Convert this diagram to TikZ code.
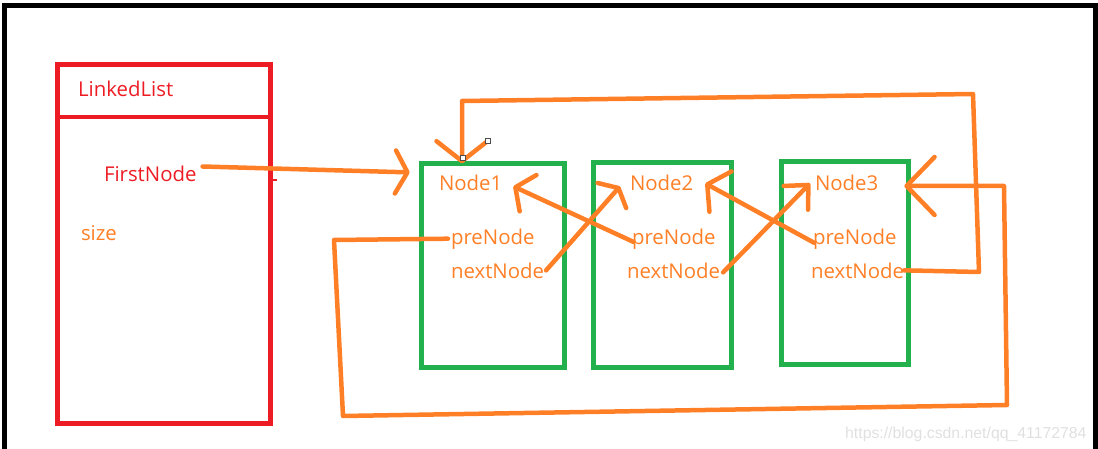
\documentclass[tikz,border=0pt]{standalone}
\usepackage{fontspec}
\setmainfont{Open Sans}
\newfontfamily\wmfont{Liberation Sans}
\usetikzlibrary{arrows.meta,calc}
\definecolor{pred}{RGB}{237,28,36}
\definecolor{pgreen}{RGB}{34,177,76}
\definecolor{porange}{RGB}{255,127,39}
\begin{document}
\begin{tikzpicture}[x=1pt,y=-1pt,
  frame/.style={draw=black, line width=5pt},
  listbox/.style={draw=pred, line width=5pt, rectangle, inner sep=0pt, outer sep=0pt},
  nodebox/.style={draw=pgreen, line width=5pt, rectangle, inner sep=0pt, outer sep=0pt},
  lbl/.style={inner sep=0pt, outer sep=0pt, anchor=base west, font=\fontsize{20.4}{23}\selectfont},
  redlbl/.style={lbl, text=pred},
  orglbl/.style={lbl, text=porange},
  link/.style={draw=porange, line width=4.5pt, line cap=round, line join=round},
  handle/.style={draw=black!70, fill=white, line width=0.8pt, minimum size=4.5pt, inner sep=0pt, rectangle}
]
\useasboundingbox (0,0) rectangle (1098,449);
% frame (open at the bottom)
\draw[frame] (4.5,449) -- (4.5,5.5) -- (1095.5,5.5) -- (1095.5,449);

% LinkedList box
\node[listbox, minimum width=213pt, minimum height=359pt] (ll) at (164,244) {};
\coordinate (div) at (57,117);
\draw[draw=pred, line width=4.5pt] (ll.west |- div) -- (ll.east |- div);
\coordinate (rt) at (277,180);
\draw[draw=pred, line width=2.5pt] (ll.east |- rt) -- (rt);
\node[redlbl] (title) at (78,97) {LinkedList};
\node[redlbl] (fn) at (104,182) {FirstNode};
\node[orglbl] (sz) at (81,241) {size};

% node boxes
\node[nodebox, minimum width=143pt, minimum height=204pt] (b1) at (493.2,265.4) {};
\node[nodebox, minimum width=138pt, minimum height=204.6pt] (b2) at (662,265) {};
\node[nodebox, minimum width=126.6pt, minimum height=202.6pt] (b3) at (845,263) {};

\node[orglbl] (n1) at (439,191) {Node1};
\node[orglbl] (pn1) at (451,244) {preNode};
\node[orglbl] (nn1) at (451,278) {nextNode};
\node[orglbl] (n2) at (630,191) {Node2};
\node[orglbl] (pn2) at (632,244) {preNode};
\node[orglbl] (nn2) at (627,278) {nextNode};
\node[orglbl] (n3) at (815,191) {Node3};
\node[orglbl] (pn3) at (813,244) {preNode};
\node[orglbl] (nn3) at (811,278) {nextNode};

% FirstNode -> Node1
\draw[link, -{Straight Barb[round,length=12pt,width=43pt]}] ([xshift=6pt]fn.north east) -- ($(b1.north west)+(-12,9)$);

% Node3.nextNode -> top loop -> Node1
\coordinate (tA) at (979,272);
\coordinate (tB) at (973,94);
\coordinate (tC) at (462,101);
\draw[link, -{Straight Barb[round,length=20pt,width=51pt]}] (nn3.east) -- (tA) -- (tB) -- (tC) -- (tC |- b1.north);

% Node1.preNode -> bottom loop -> Node3
\coordinate (bA) at (334,240);
\coordinate (bB) at (343,416);
\coordinate (bC) at (1007,405);
\coordinate (bD) at (1004,186);
\draw[link, -{Straight Barb[round,length=28pt,width=58pt]}] ([xshift=-3pt]pn1.west) -- (bA) -- (bB) -- (bC) -- (bD) -- ($(b3.east |- bD)+(-4,0)$);

% cross links
\draw[link, -{Straight Barb[round,length=10pt,width=38pt]}] ([xshift=2pt]nn1.east) -- ($(n2.west)+(-10,3)$);
\draw[link, -{Straight Barb[round,length=14pt,width=40pt]}] ($(pn2.west)+(1,3)$) -- ($(n1.east)+(11,3)$);
\draw[link, -{Straight Barb[round,length=18pt,width=34pt]}] ($(nn2.east)+(3,2)$) -- ($(n3.west)+(-5,0)$);
\draw[link, -{Straight Barb[round,length=15pt,width=46pt]}] ($(pn3.west)+(1,4)$) -- ($(n2.east)+(12,0)$);

% selection handles
\node[handle] (h1) at (488,141) {};
\node[handle] (h2) at (463,158) {};

% watermark
\node[inner sep=0pt, anchor=base west, font=\wmfont\fontsize{15.8}{18}\selectfont, text=black!12] (wm) at (845,438) {https://blog.csdn.net/qq\_41172784};
\end{tikzpicture}
\end{document}
